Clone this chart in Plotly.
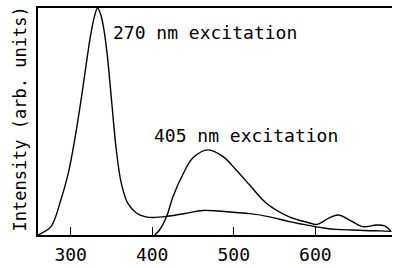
import plotly.graph_objects as go

# 270 nm excitation spectrum
wl_270 = [260, 264, 276, 288, 297, 305, 313, 321, 325, 329, 333, 337, 341, 345, 350, 356, 362, 370, 381, 391, 401,
          418, 440, 462, 480, 499, 520, 544, 568, 585, 599, 612, 626, 645, 666, 680, 693]
int_270 = [0, 0.007, 0.037, 0.154, 0.27, 0.42, 0.60, 0.80, 0.89, 0.96, 1.0, 0.97, 0.90, 0.79, 0.60, 0.375, 0.23, 0.14, 0.096, 0.081, 0.077,
           0.082, 0.095, 0.108, 0.106, 0.10, 0.094, 0.08, 0.059, 0.047, 0.037, 0.03, 0.025, 0.022, 0.019, 0.018, 0.016]

# 405 nm excitation spectrum
wl_405 = [403, 409, 417.5, 425.6, 438, 450, 468.5, 487, 503, 519.5, 540, 568, 593, 600, 605, 617, 628, 642, 658, 675, 685, 693]
int_405 = [0, 0.022, 0.08, 0.17, 0.27, 0.34, 0.375, 0.345, 0.286, 0.22, 0.14, 0.08, 0.053, 0.046, 0.05, 0.075, 0.088, 0.066, 0.037, 0.044, 0.04, 0.015]

x_ticks = [300, 400, 500, 600]
labels = ["270 nm excitation", "405 nm excitation"]
label_pos = [(349, 0.89), (399.5, 0.44)]

FONT = "DejaVu Sans Mono"

fig = go.Figure()
for wl, it in [(wl_270, int_270), (wl_405, int_405)]:
    fig.add_trace(go.Scatter(x=wl, y=it, mode="lines",
                             line=dict(color="black", width=1.4, shape="spline", smoothing=1.0),
                             showlegend=False, hoverinfo="skip"))

for txt, (lx, ly) in zip(labels, label_pos):
    fig.add_annotation(x=lx, y=ly, xref="x", yref="y", text=txt, showarrow=False,
                       xanchor="left", yanchor="middle",
                       font=dict(family=FONT, size=18, color="black"))

fig.add_annotation(x=-0.05, y=0.51, xref="paper", yref="paper", text="Intensity (arb. units)",
                   showarrow=False, textangle=-90, xanchor="center", yanchor="middle",
                   font=dict(family=FONT, size=17, color="black"))

fig.update_layout(
    width=393, height=268,
    margin=dict(l=38, r=1, t=8, b=33),
    paper_bgcolor="white", plot_bgcolor="white",
    hovermode=False,
    xaxis=dict(range=[260, 694], tickvals=x_ticks, ticks="inside", ticklen=8, tickwidth=1.2,
               tickcolor="black", showline=True, linecolor="black", linewidth=1.6, mirror=True,
               showgrid=False, zeroline=False, ticklabelstandoff=3,
               tickfont=dict(family=FONT, size=18, color="black")),
    yaxis=dict(range=[0, 1.0], showticklabels=False, ticks="", showline=True, linecolor="black",
               linewidth=1.6, mirror=False, showgrid=False, zeroline=False),
)

fig.write_html("out.html", config={"displayModeBar": False, "staticPlot": True},
               post_script="document.body.style.margin='0';document.body.style.padding='0';")
